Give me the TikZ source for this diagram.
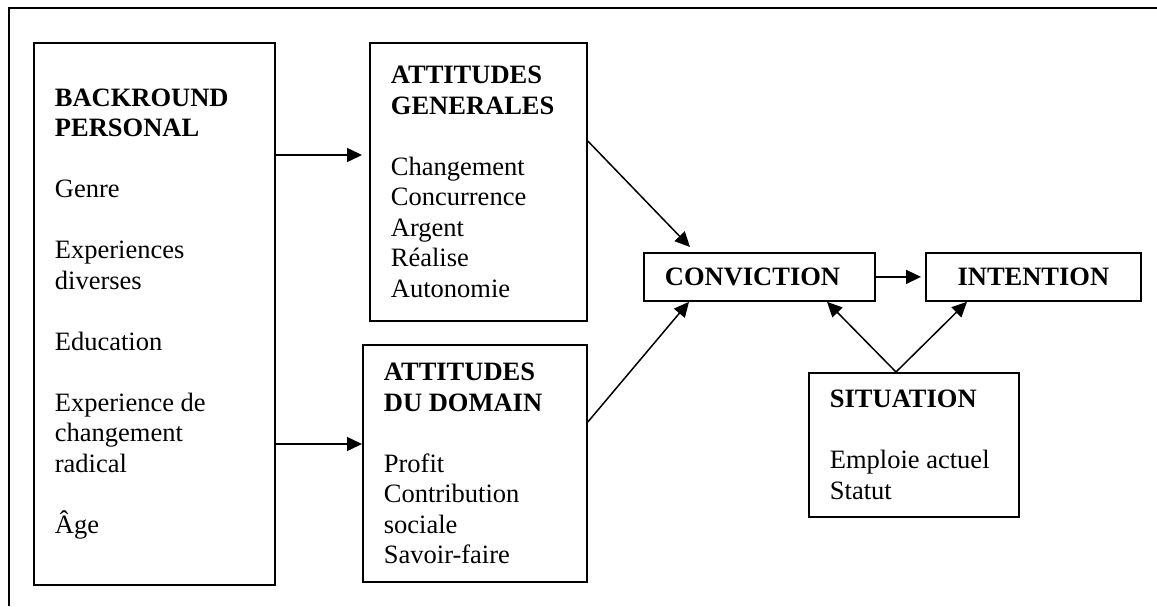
\documentclass[tikz,border=0pt]{standalone}
\usepackage{fontspec}
\setmainfont{Liberation Serif}
\usetikzlibrary{arrows.meta}
\begin{document}
\begin{tikzpicture}[x=0.5pt,y=-0.5pt,
    box/.style={draw,line width=0.9pt,anchor=north west,align=flush left,
        inner xsep=10.5pt,inner ysep=0pt,
        font=\fontsize{13.25}{15.25}\selectfont},
    link/.style={line width=0.75pt,-{Triangle[length=7.5pt,width=7pt]}}]
    \useasboundingbox (0,0) rectangle (1157,606);
    \draw[line width=1pt] (1157,8) -- (9,8) -- (9,606);
    % boxes
    \node[box,text width=99.5pt,minimum height=271pt] (bg) at (33,42)
        {\textbf{BACKROUND}\\\textbf{PERSONAL}\\\mbox{}\\Genre\\\mbox{}\\Experiences\\diverses\\\mbox{}\\Education\\\mbox{}\\Experience de\\changement\\radical\\\mbox{}\\Âge};
    \node[box,text width=87.5pt,minimum height=139pt] (gen) at (369,42)
        {\textbf{ATTITUDES}\\\textbf{GENERALES}\\\mbox{}\\Changement\\Concurrence\\Argent\\Réalise\\Autonomie};
    \node[box,text width=91pt,minimum height=118.5pt] (dom) at (362,344)
        {\textbf{ATTITUDES}\\\textbf{DU DOMAIN}\\\mbox{}\\Profit\\Contribution\\sociale\\Savoir-faire};
    \node[box,text width=94.5pt,minimum height=24pt] (conv) at (643,252) {\textbf{CONVICTION}};
    \node[box,text width=86.5pt,minimum height=24pt,align=center] (intent) at (925,252) {\textbf{INTENTION}};
    \node[box,text width=84pt,minimum height=72pt] (sit) at (808,372)
        {\textbf{SITUATION}\\\mbox{}\\Emploie actuel\\Statut};
    % arrows
    \draw[link,shorten >=3.5pt] (bg.east |- 0,155) -- (gen.west |- 0,155);
    \draw[link] (bg.east |- 0,444) -- (dom.west |- 0,444);
    \draw[link] (gen.east |- 0,141) -- ([xshift=23.5pt,yshift=2.5pt]conv.north west);
    \draw[link] (dom.east |- 0,422) -- ([xshift=23pt]conv.south west);
    \draw[link,shorten >=2pt] (conv) -- (intent);
    \draw[link] ([xshift=44pt]sit.north west) -- ([xshift=92pt]conv.south west);
    \draw[link] ([xshift=44pt]sit.north west) -- ([xshift=21pt]intent.south west);
\end{tikzpicture}
\end{document}
